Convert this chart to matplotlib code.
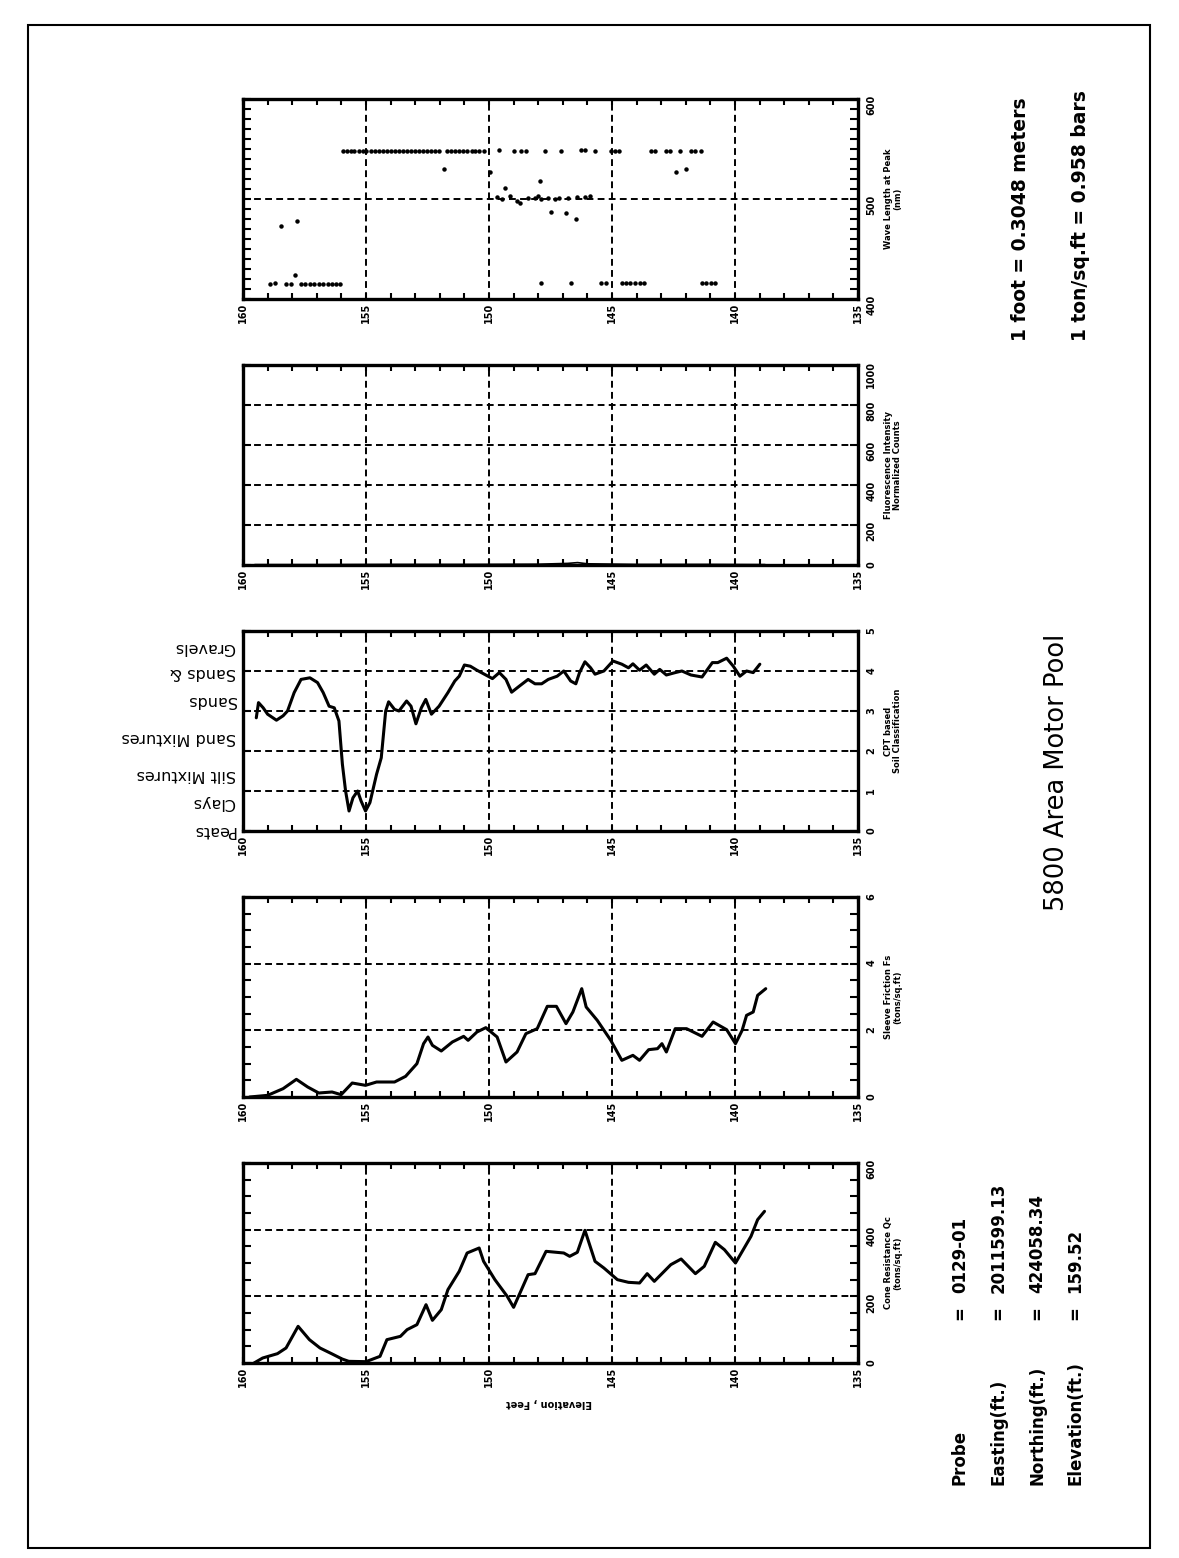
import matplotlib
matplotlib.use("Agg")
import matplotlib.pyplot as plt
from matplotlib.ticker import MultipleLocator
from matplotlib.patches import Rectangle

# --- data (elevation in feet) ---
qc_elev = [159.55, 159.2, 158.6, 158.25, 157.76, 157.3, 156.87, 156.4, 155.97, 155.7, 155.0,
           154.43, 154.15, 153.6, 153.33, 152.93, 152.56, 152.3, 151.94, 151.67, 151.21, 150.89,
           150.40, 150.22, 149.76, 149.26, 149.00, 148.68, 148.41, 148.13, 147.68, 146.96, 146.72,
           146.41, 146.10, 145.69, 145.33, 144.78, 144.33, 143.88, 143.57, 143.28, 142.61, 142.19,
           141.61, 141.25, 140.80, 140.43, 139.98, 139.35, 139.08, 138.80]
qc_vals = [0, 15, 28, 45, 110, 70, 45, 28, 12, 5, 4,
           20, 70, 80, 100, 115, 175, 128, 160, 220, 275, 330,
           345, 305, 250, 200, 167, 220, 265, 268, 335, 330, 320,
           332, 398, 305, 285, 250, 242, 240, 268, 245, 295, 312,
           268, 290, 362, 340, 300, 380, 430, 455]

fs_elev = [159.73, 159.0, 158.37, 157.83, 157.37, 156.92, 156.38, 156.01, 155.56, 155.02,
           154.57, 153.84, 153.39, 152.93, 152.66, 152.48, 152.30, 151.94, 151.49, 151.03,
           150.85, 150.49, 150.13, 149.67, 149.31, 148.86, 148.50, 148.04, 147.63, 147.26,
           146.87, 146.59, 146.23, 146.05, 145.60, 145.05, 144.60, 144.15, 143.88, 143.51,
           143.15, 142.97, 142.79, 142.43, 141.97, 141.34, 140.89, 140.34, 139.98, 139.71,
           139.53, 139.26, 139.08, 138.75]
fs_vals = [0, 0.05, 0.25, 0.53, 0.3, 0.12, 0.15, 0.07, 0.42, 0.35,
           0.45, 0.45, 0.62, 1.0, 1.6, 1.8, 1.55, 1.38, 1.65, 1.82,
           1.7, 1.95, 2.08, 1.8, 1.05, 1.35, 1.9, 2.05, 2.72, 2.72,
           2.2, 2.55, 3.25, 2.7, 2.3, 1.7, 1.1, 1.25, 1.1, 1.42,
           1.45, 1.6, 1.35, 2.05, 2.05, 1.82, 2.25, 2.02, 1.6, 2.0,
           2.45, 2.55, 3.05, 3.25]

soil_elev = [159.46, 159.37, 159.18, 159.0, 158.64, 158.37, 158.19, 157.92, 157.64, 157.28,
             156.97, 156.74, 156.5, 156.29, 156.1, 155.96, 155.83, 155.69, 155.53, 155.34,
             155.20, 155.02, 154.84, 154.57, 154.38, 154.2, 154.08, 153.84, 153.66, 153.35,
             153.17, 152.97, 152.75, 152.57, 152.34, 152.03, 151.67, 151.39, 151.21, 151.0,
             150.76, 150.49, 150.13, 149.86, 149.58, 149.31, 149.08, 148.77, 148.41, 148.13,
             147.86, 147.59, 147.23, 146.96, 146.68, 146.47, 146.32, 146.10, 145.87, 145.69,
             145.33, 144.96, 144.60, 144.33, 144.15, 143.88, 143.61, 143.28, 143.06, 142.79,
             142.43, 142.16, 141.79, 141.34, 140.92, 140.7, 140.34, 140.07, 139.8, 139.53,
             139.26, 138.99]
soil_vals = [2.83, 3.21, 3.08, 2.92, 2.77, 2.88, 3.0, 3.46, 3.79, 3.83,
             3.71, 3.46, 3.12, 3.08, 2.75, 1.67, 1.0, 0.5, 0.83, 1.0,
             0.75, 0.5, 0.71, 1.42, 1.83, 3.0, 3.23, 3.04, 3.0, 3.25,
             3.12, 2.68, 3.08, 3.29, 2.92, 3.12, 3.46, 3.75, 3.87, 4.15,
             4.12, 4.02, 3.9, 3.81, 3.96, 3.79, 3.47, 3.62, 3.79, 3.68,
             3.68, 3.79, 3.87, 4.0, 3.75, 3.68, 3.96, 4.23, 4.08, 3.92,
             4.0, 4.25, 4.17, 4.08, 4.18, 4.02, 4.15, 3.92, 4.04, 3.9,
             3.96, 4.0, 3.9, 3.85, 4.21, 4.21, 4.32, 4.12, 3.87, 4.0,
             3.96, 4.17]
soil_names = ["Peats", "Clays", "Silt Mixtures", "Sand Mixtures", "Sands", "Sands &", "Gravels"]
soil_levels = [0.0, 0.71, 1.42, 2.33, 3.25, 3.96, 4.58]

fl_elev = [159.5, 157.0, 154.0, 151.0, 148.0, 146.8, 146.4, 146.0, 144.0, 141.0, 138.8]
fl_vals = [2, 2, 3, 3, 4, 8, 12, 6, 3, 3, 2]

wl_elev = [158.91, 158.68, 158.26, 158.04, 157.64, 157.46, 157.28, 157.10, 156.91, 156.73,
           156.55, 156.39, 156.21, 156.04,
           158.46, 157.80, 157.89,
           155.95, 155.79, 155.63, 155.47, 155.30, 155.14, 154.98, 154.81, 154.65, 154.49,
           154.32, 154.16, 154.00, 153.83, 153.67, 153.51, 153.34, 153.18, 153.02, 152.85,
           152.69, 152.53, 152.36, 152.20, 152.04,
           151.69, 151.53, 151.37, 151.20, 151.04, 150.88, 150.71, 150.55, 150.39, 150.22,
           149.60, 148.97, 148.69, 148.51, 147.73, 147.06, 146.28, 146.10, 145.70, 145.06,
           144.88, 144.70, 143.43, 143.25, 142.80, 142.65, 142.25, 141.80, 141.62, 141.38,
           151.82, 149.96, 142.40, 141.98, 147.93, 149.33,
           149.69, 149.47, 149.15, 148.87, 148.73, 148.42, 148.15, 148.02, 147.88, 147.60,
           147.33, 147.15, 146.79, 146.42, 146.10, 145.88,
           147.46, 146.88, 146.46,
           147.88, 146.68, 145.43, 145.25, 144.61, 144.43, 144.25, 144.07, 143.88, 143.70,
           141.34, 141.16, 140.98, 140.80]
wl_vals = [415, 416, 415, 415, 415, 415, 415, 415, 415, 415,
           415, 415, 415, 415,
           473, 478, 424,
           548, 548, 548, 548, 548, 548, 548, 548, 548, 548,
           548, 548, 548, 548, 548, 548, 548, 548, 548, 548,
           548, 548, 548, 548, 548,
           548, 548, 548, 548, 548, 548, 548, 548, 548, 548,
           549, 548, 548, 548, 548, 548, 549, 549, 548, 548,
           548, 548, 548, 548, 548, 548, 548, 548, 548, 548,
           530, 527, 527, 530, 518, 511,
           502, 500, 503, 498, 496, 501, 501, 503, 500, 501,
           500, 501, 501, 502, 502, 503,
           487, 486, 480,
           416, 416, 416, 416, 416, 416, 416, 416, 416, 416,
           416, 416, 416, 416]

elev_ticks = [160, 155, 150, 145, 140, 135]

W, H = 1179, 1558
fig = plt.figure(figsize=(W / 100, H / 100), dpi=100)
plt.rcParams["font.family"] = ["DejaVu Sans"]

AX_L, AX_R, AX_H = 243, 858, 200
GRID = dict(color="black", linestyle=(0, (3.5, 2.2)), linewidth=1.4)


def fxy(x, y):
    return x / W, 1 - y / H


def make_panel(bottom, ylim, major, minor, title):
    ax = fig.add_axes([AX_L / W, 1 - bottom / H, (AX_R - AX_L) / W, AX_H / H])
    ax.set_xlim(160, 135)
    ax.set_ylim(*ylim)
    ax.set_xticks(elev_ticks)
    ax.set_xticklabels([str(t) for t in elev_ticks])
    ax.xaxis.set_minor_locator(MultipleLocator(1))
    ax.set_yticks(major)
    ax.set_yticklabels([str(m) for m in major])
    if minor:
        ax.yaxis.set_minor_locator(MultipleLocator(minor))
    ax.tick_params(axis="x", which="both", direction="in", top=True, bottom=True,
                   length=4, width=1.5, pad=3, labelsize=7, labelrotation=90)
    ax.tick_params(axis="y", which="both", direction="in", left=True, right=True,
                   labelleft=False, labelright=True, length=6, width=1.5, pad=6,
                   labelsize=7, labelrotation=90)
    for lbl in ax.get_xticklabels() + ax.get_yticklabels():
        lbl.set_fontweight("bold")
    ax.grid(True, which="major", **GRID)
    for s in ax.spines.values():
        s.set_linewidth(2.4)
    fig.text(*fxy(893, bottom - AX_H / 2), title, rotation=90, ha="center", va="center",
             fontsize=6, fontweight="bold", linespacing=1.1)
    return ax


line_kw = dict(color="black", linewidth=2.2, solid_joinstyle="round", solid_capstyle="round")

ax1 = make_panel(1363, (0, 600), [0, 200, 400, 600], 50, "Cone Resistance Qc\n(tons/sq.ft)")
ax1.plot(qc_elev, qc_vals, **line_kw)

ax2 = make_panel(1097, (0, 6), [0, 2, 4, 6], 0.5, "Sleeve Friction Fs\n(tons/sq.ft)")
ax2.plot(fs_elev, fs_vals, **line_kw)

ax3 = make_panel(831, (0, 5), [0, 1, 2, 3, 4, 5], None, "CPT based\nSoil Classification")
ax3.plot(soil_elev, soil_vals, **line_kw)
for name, lev in zip(soil_names, soil_levels):
    ax3.text(-0.012, lev, name, transform=ax3.get_yaxis_transform(), rotation=180,
             rotation_mode="anchor", ha="left", va="center", fontsize=11.5)

ax4 = make_panel(565, (0, 1000), [0, 200, 400, 600, 800, 1000], None,
                 "Fluorescence Intensity\nNormalized Counts")
ax4.plot(fl_elev, fl_vals, color="black", linewidth=1.2)

ax5 = make_panel(299, (400, 600), [400, 500, 600], 10, "Wave Length at Peak\n(nm)")
ax5.plot(wl_elev, wl_vals, "o", color="black", markersize=2.2, linestyle="none")

# y-axis title (rotated page)
fig.text(*fxy(549, 1403), "Elevation , Feet", rotation=180, ha="center", va="center",
         fontsize=7, fontweight="bold")

# probe information
probe_names = ["Probe", "Easting(ft.)", "Northing(ft.)", "Elevation(ft.)"]
probe_values = ["0129-01", "2011599.13", "424058.34", "159.52"]
for i, (nm, val) in enumerate(zip(probe_names, probe_values)):
    x = 960 + i * 38.5
    fig.text(*fxy(x, 1485), nm, rotation=90, rotation_mode="anchor", ha="left",
             va="center", fontsize=12, fontweight="bold")
    fig.text(*fxy(x, 1313), "=", rotation=90, rotation_mode="anchor", ha="center",
             va="center", fontsize=12, fontweight="bold")
    fig.text(*fxy(x, 1293), val, rotation=90, rotation_mode="anchor", ha="left",
             va="center", fontsize=12, fontweight="bold")

fig.text(*fxy(1057, 772), "5800 Area Motor Pool", rotation=90, ha="center", va="center",
         fontsize=18.5)

fig.text(*fxy(1020, 341), "1 foot = 0.3048 meters", rotation=90, rotation_mode="anchor",
         ha="left", va="center", fontsize=13.5, fontweight="bold")
fig.text(*fxy(1080, 341), "1 ton/sq.ft = 0.958 bars", rotation=90, rotation_mode="anchor",
         ha="left", va="center", fontsize=13.5, fontweight="bold")

# page frame of the scan
fig.patches.append(Rectangle(fxy(28, 1548), (1150 - 28) / W, (1548 - 25) / H,
                             transform=fig.transFigure, fill=False, linewidth=1.5,
                             edgecolor="black"))

fig.savefig("out.png", dpi=100)
